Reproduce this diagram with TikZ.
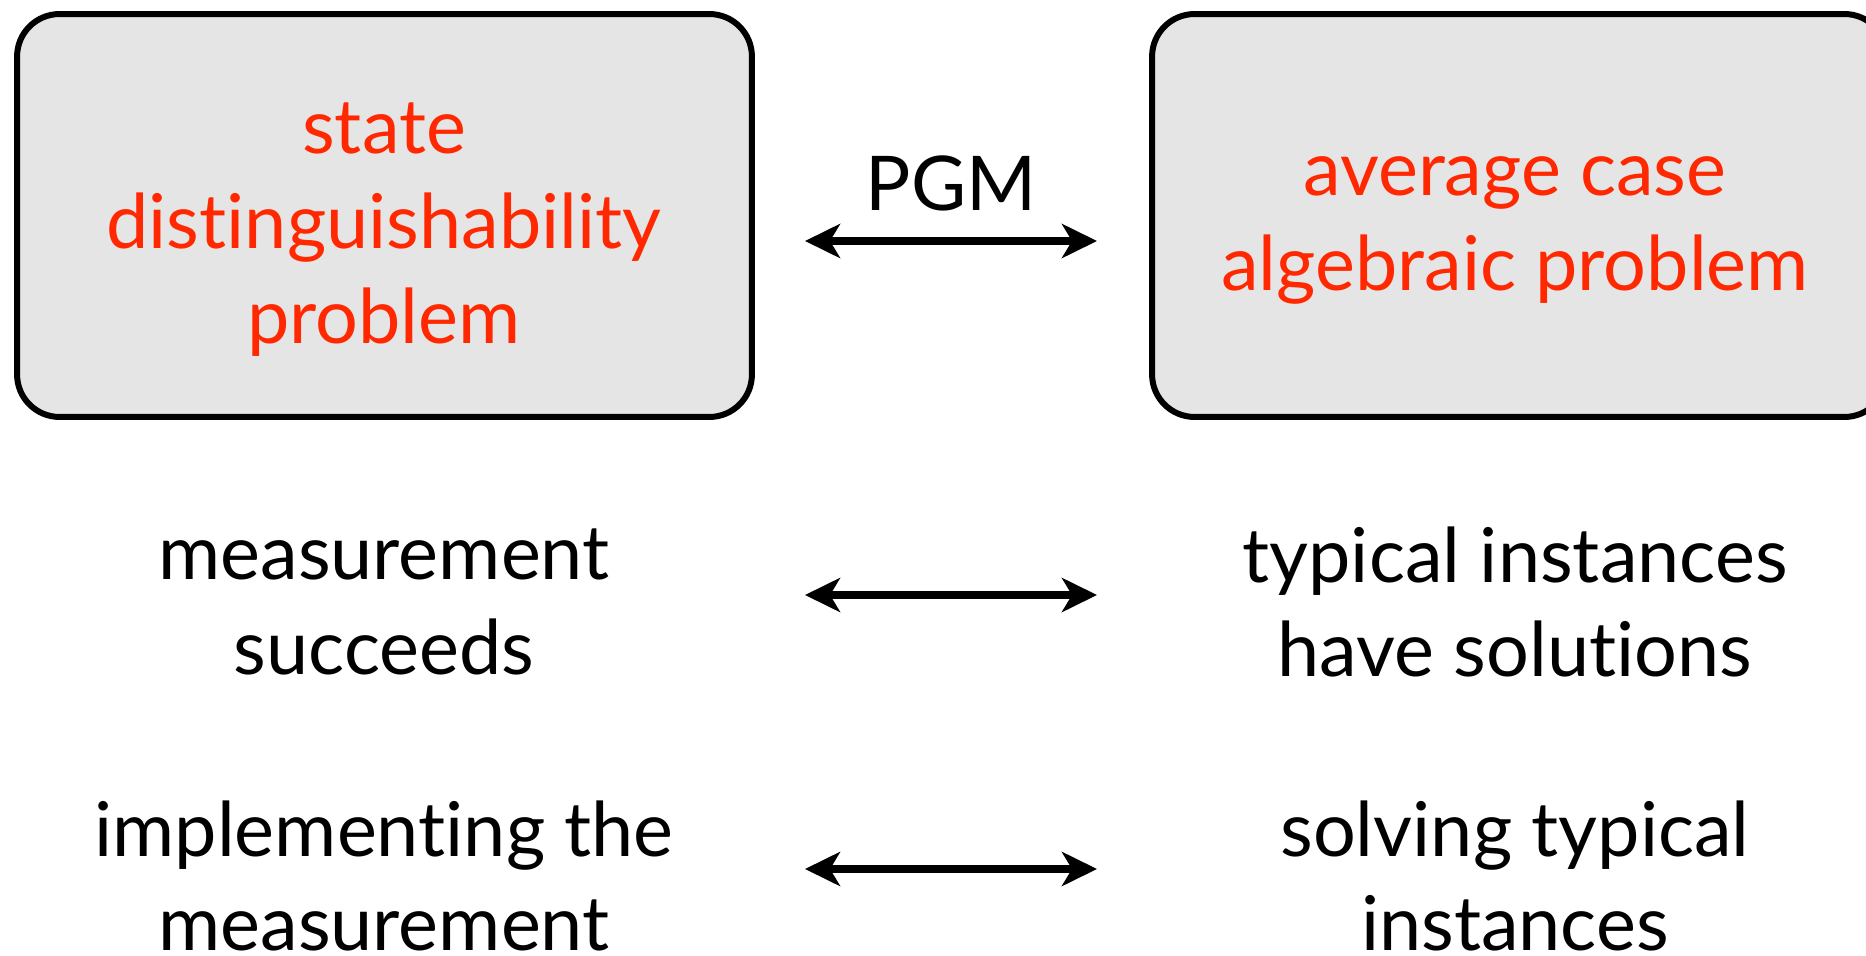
\documentclass[tikz,border=0pt]{standalone}
\usepackage{fontspec}
\setmainfont{Lato}[Ligatures=NoCommon]
\usetikzlibrary{arrows.meta}
\definecolor{probred}{RGB}{255,40,0}
\definecolor{probgray}{RGB}{229,229,229}
\newcommand{\slidefont}{\fontsize{43}{54}\selectfont}
\tikzset{%
  probbox/.style={draw, line width=0.12cm, fill=probgray, rounded corners=0.85cm,
                  minimum width=14.7cm, minimum height=8.06cm, text=probred,
                  align=center, font=\slidefont},
  txt/.style={align=center, font=\slidefont},
  dbl/.style={{Stealth[length=0.7cm, width=0.68cm, inset=0.2cm]}-{Stealth[length=0.7cm, width=0.68cm, inset=0.2cm]},
              line width=0.15cm},
}

\begin{document}
\begin{tikzpicture}[x=0.02cm, y=-0.02cm]
    \useasboundingbox (0,0) rectangle (1866,956);

    %the two problems
    \node[probbox] (sdp) at (384.5,215.5) {};
    \node[probbox] (acp) at (1519.5,215.5) {};
    \node[txt, text=probred] (sdptext) at (384,230) {state\\distinguishability\\problem};
    \node[txt, text=probred] (acptext) at (1515,230) {average case\\algebraic problem};

    %left column
    \node[txt] (succ) at (384,602) {measurement\\succeeds};
    \node[txt] (impl) at (384,876) {implementing the\\measurement};

    %right column
    \node[txt] (typ) at (1515,602) {typical instances\\have solutions};
    \node[txt] (solv) at (1515,876) {solving typical\\instances};

    %arrows in between
    \coordinate (a1) at (805,241);
    \coordinate (b1) at (1097,241);
    \coordinate (a2) at (805,595);
    \coordinate (b2) at (1097,595);
    \coordinate (a3) at (805,869);
    \coordinate (b3) at (1097,869);
    \draw[dbl] (a1) -- (b1);
    \draw[dbl] (a2) -- (b2);
    \draw[dbl] (a3) -- (b3);
    \node[txt, anchor=base] (pgm) at (951,211) {PGM};
\end{tikzpicture}
\end{document}
